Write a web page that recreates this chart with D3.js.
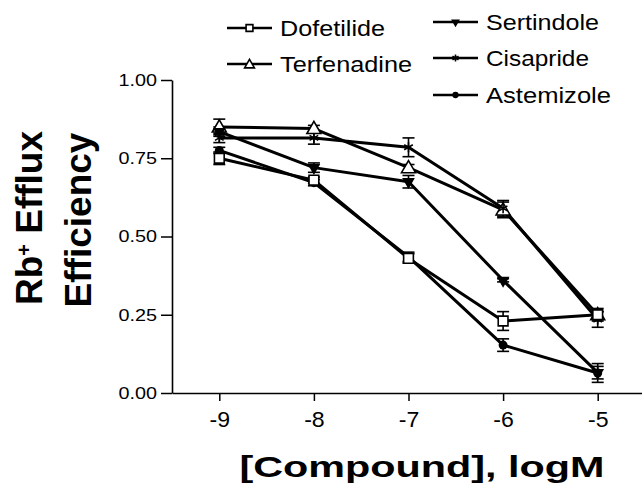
<!DOCTYPE html>
<html>
<head>
<meta charset="utf-8">
<script src="https://cdn.jsdelivr.net/npm/d3@7"></script>
<style>
  body { margin: 0; background: #fff; }
  svg { display: block; }
  text { font-family: "Liberation Sans", Arial, sans-serif; fill: #000; }
</style>
</head>
<body>
<svg id="chart" width="642" height="489"></svg>
<script>
// log concentrations
var doses = [-9, -8, -7, -6, -5];

var names = ["Dofetilide", "Terfenadine", "Sertindole", "Cisapride", "Astemizole"];

// mean efflux efficiency per dose
var dofetilide  = [0.75, 0.68, 0.43, 0.23, 0.25];
var terfenadine = [0.85, 0.845, 0.72, 0.585, 0.25];
var sertindole  = [0.835, 0.72, 0.675, 0.36, 0.065];
var cisapride   = [0.815, 0.815, 0.785, 0.59, 0.235];
var astemizole  = [0.775, 0.672, 0.435, 0.153, 0.064];

// SEM per dose
var dofetilideErr  = [0.02, 0.01, 0.015, 0.03, 0.02];
var terfenadineErr = [0.025, 0.01, 0.01, 0.025, 0.01];
var sertindoleErr  = [0.015, 0.015, 0.02, 0.005, 0.02];
var cisaprideErr   = [0.015, 0.02, 0.03, 0.025, 0.025];
var astemizoleErr  = [0.01, 0.01, 0.015, 0.02, 0.03];

var yTicks = [0, 0.25, 0.5, 0.75, 1];

var series = [
  {name: names[0], values: dofetilide,  err: dofetilideErr,  mark: "square"},
  {name: names[1], values: terfenadine, err: terfenadineErr, mark: "triangle"},
  {name: names[2], values: sertindole,  err: sertindoleErr,  mark: "down"},
  {name: names[3], values: cisapride,   err: cisaprideErr,   mark: "star"},
  {name: names[4], values: astemizole,  err: astemizoleErr,  mark: "circle"}
];

var svg = d3.select("#chart");

var x = d3.scaleLinear().domain([-9.5, -4.5]).range([172, 645]);
var y = d3.scaleLinear().domain([0, 1]).range([393, 80]);

function stretch(sel, k) {
  sel.each(function() {
    var w = this.getComputedTextLength();
    d3.select(this).attr("textLength", w * k).attr("lengthAdjust", "spacingAndGlyphs");
  });
}

// axes
var gx = svg.append("g")
  .attr("transform", "translate(0,393)")
  .call(d3.axisBottom(x).tickValues(doses).tickSize(8).tickSizeOuter(0).tickPadding(6)
    .tickFormat(function(d) { return String(d); }));
gx.select(".domain").attr("stroke-width", 1.6);
gx.selectAll(".tick line").attr("stroke-width", 1.5);
gx.selectAll(".tick text").attr("font-size", 22).attr("font-family", null).attr("dy", "0.9em");
stretch(gx.selectAll(".tick text"), 1.05);

var gy = svg.append("g")
  .attr("transform", "translate(172,0)")
  .call(d3.axisLeft(y).tickValues(yTicks).tickSize(11).tickSizeOuter(0).tickPadding(4)
    .tickFormat(d3.format(".2f")));
gy.select(".domain").attr("stroke-width", 1.6);
gy.selectAll(".tick line").attr("stroke-width", 1.5);
gy.selectAll(".tick text").attr("font-size", 16.5).attr("font-family", null);
stretch(gy.selectAll(".tick text"), 1.2);

// axis titles
svg.append("text")
  .attr("x", 422).attr("y", 477)
  .attr("text-anchor", "middle")
  .attr("font-size", 30).attr("font-weight", "bold")
  .text("[Compound], logM")
  .attr("textLength", 365).attr("lengthAdjust", "spacingAndGlyphs");

var yt1 = svg.append("text")
  .attr("transform", "translate(42,218) rotate(-90)")
  .attr("text-anchor", "middle")
  .attr("font-size", 37).attr("font-weight", "bold");
yt1.append("tspan").text("Rb");
yt1.append("tspan").attr("baseline-shift", "super").attr("font-size", 20).text("+");
yt1.append("tspan").text(" Efflux");

svg.append("text")
  .attr("transform", "translate(91,220) rotate(-90)")
  .attr("text-anchor", "middle")
  .attr("font-size", 37).attr("font-weight", "bold")
  .text("Efficiency");

// marker drawing
function drawMark(g, mark, scale) {
  var s = scale || 1;
  if (mark === "square") {
    g.append("path").attr("d", d3.symbol(d3.symbolSquare, 95 * s * s)())
      .attr("fill", "#fff").attr("stroke", "#000").attr("stroke-width", 1.6);
  } else if (mark === "triangle") {
    g.append("path").attr("d", d3.symbol(d3.symbolTriangle, 85 * s * s)())
      .attr("transform", "translate(0,1)")
      .attr("fill", "#fff").attr("stroke", "#000").attr("stroke-width", 1.6);
  } else if (mark === "down") {
    g.append("path").attr("d", d3.symbol(d3.symbolTriangle, 70 * s * s)())
      .attr("transform", "rotate(180)")
      .attr("fill", "#000");
  } else if (mark === "star") {
    g.append("path").attr("d", d3.symbol(d3.symbolAsterisk, 70 * s * s)())
      .attr("fill", "none").attr("stroke", "#000").attr("stroke-width", 1.6);
  } else {
    g.append("circle").attr("r", 4.5 * s).attr("fill", "#000");
  }
}

var plot = svg.append("g");
var line = d3.line()
  .x(function(d, i) { return x(doses[i]); })
  .y(function(d) { return y(d); });

series.forEach(function(s) {
  plot.append("path")
    .datum(s.values)
    .attr("d", line)
    .attr("fill", "none")
    .attr("stroke", "#000")
    .attr("stroke-width", 3)
    .attr("stroke-linejoin", "round");
});

series.forEach(function(s) {
  var eb = plot.append("g").attr("stroke", "#000").attr("stroke-width", 1.6);
  s.values.forEach(function(v, i) {
    var cx = x(doses[i]);
    var e = s.err[i];
    eb.append("line").attr("x1", cx).attr("x2", cx).attr("y1", y(v - e)).attr("y2", y(v + e));
    eb.append("line").attr("x1", cx - 6).attr("x2", cx + 6).attr("y1", y(v - e)).attr("y2", y(v - e));
    eb.append("line").attr("x1", cx - 6).attr("x2", cx + 6).attr("y1", y(v + e)).attr("y2", y(v + e));
  });
});

// open squares sit on top of the others
var markOrder = [1, 2, 3, 4, 0];
markOrder.forEach(function(k) {
  var s = series[k];
  s.values.forEach(function(v, i) {
    var g = plot.append("g").attr("transform", "translate(" + x(doses[i]) + "," + y(v) + ")");
    drawMark(g, s.mark);
  });
});

// legend
var legendPos = [
  {x: 227, y: 36}, {x: 227, y: 72},
  {x: 433, y: 30}, {x: 433, y: 66}, {x: 433, y: 103}
];
var legendLen = [105, 132, 113, 103, 125];

series.forEach(function(s, i) {
  var p = legendPos[i];
  var g = svg.append("g").attr("transform", "translate(" + p.x + "," + p.y + ")");
  g.append("line").attr("x1", 0).attr("x2", 45).attr("y1", -8).attr("y2", -8)
    .attr("stroke", "#000").attr("stroke-width", 2.5);
  var m = g.append("g").attr("transform", "translate(22.5,-8)");
  drawMark(m, s.mark, 0.7);
  g.append("text").attr("x", 53).attr("y", 0)
    .attr("font-size", 22)
    .text(s.name)
    .attr("textLength", legendLen[i]).attr("lengthAdjust", "spacingAndGlyphs");
});
</script>
</body>
</html>
